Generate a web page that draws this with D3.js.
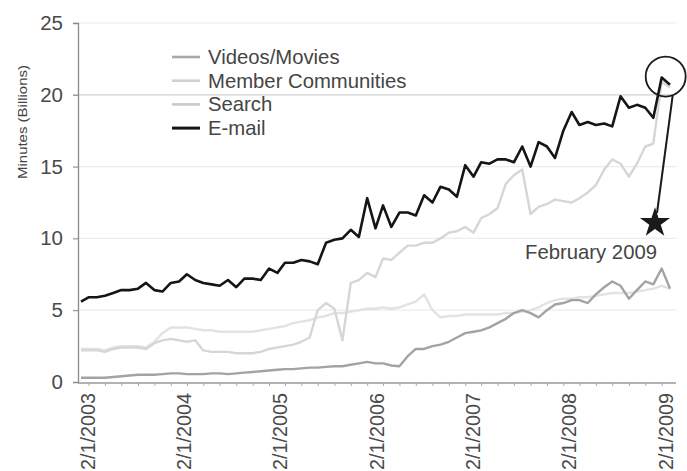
<!DOCTYPE html>
<html>
<head>
<meta charset="utf-8">
<script src="https://cdn.jsdelivr.net/npm/d3@7"></script>
<style>
  body { margin: 0; background: #fff; }
  svg { display: block; font-family: "Liberation Sans", Arial, sans-serif; }
</style>
</head>
<body>
<div id="chart"></div>
<script>
const width = 687, height = 471;

// monthly values, Feb 2003 .. Feb 2009 (minutes, billions)
const firstMonth = new Date(2003, 1, 1);
const lastMonth = new Date(2009, 1, 1);
const yearTicks = ["2/1/2003", "2/1/2004", "2/1/2005", "2/1/2006", "2/1/2007", "2/1/2008", "2/1/2009"];
const yTicks = [0, 5, 10, 15, 20, 25];
const seriesNames = ["Videos/Movies", "Member Communities", "Search", "E-mail"];

const videos = [
  0.3, 0.3, 0.3, 0.3, 0.35, 0.4, 0.45, 0.5, 0.5, 0.5,
  0.55, 0.6, 0.6, 0.55, 0.55, 0.55, 0.6, 0.6, 0.55, 0.6,
  0.65, 0.7, 0.75, 0.8, 0.85, 0.9, 0.9, 0.95, 1.0, 1.0,
  1.05, 1.1, 1.1, 1.2, 1.3, 1.4, 1.3, 1.3, 1.15, 1.1,
  1.8, 2.3, 2.3, 2.5, 2.6, 2.8, 3.1, 3.4, 3.5, 3.6,
  3.8, 4.1, 4.4, 4.8, 5.0, 4.8, 4.5, 5.0, 5.4, 5.5,
  5.7, 5.7, 5.5, 6.1, 6.6, 7.0, 6.7, 5.8, 6.4, 7.0,
  6.8, 7.9, 6.5
];
const member = [
  2.2, 2.2, 2.2, 2.1, 2.3, 2.4, 2.4, 2.4, 2.3, 2.7,
  2.9, 3.0, 2.9, 2.8, 2.9, 2.2, 2.1, 2.1, 2.1, 2.0,
  2.0, 2.0, 2.1, 2.3, 2.4, 2.5, 2.6, 2.8, 3.1, 5.0,
  5.5, 5.1, 2.9, 6.9, 7.1, 7.6, 7.3, 8.6, 8.5, 9.0,
  9.5, 9.5, 9.7, 9.7, 10.0, 10.4, 10.5, 10.8, 10.4, 11.4,
  11.7, 12.1, 13.8, 14.4, 14.8, 11.7, 12.2, 12.4, 12.7, 12.6,
  12.5, 12.8, 13.2, 13.7, 14.8, 15.5, 15.2, 14.3, 15.2, 16.4,
  16.6, 20.9, 20.5
];
const search = [
  2.3, 2.3, 2.3, 2.2, 2.4, 2.5, 2.5, 2.5, 2.4, 2.8,
  3.4, 3.8, 3.8, 3.8, 3.7, 3.6, 3.6, 3.5, 3.5, 3.5,
  3.5, 3.5, 3.6, 3.7, 3.8, 3.9, 4.1, 4.2, 4.3, 4.5,
  4.6, 4.8, 4.8, 4.9, 5.0, 5.1, 5.1, 5.2, 5.1, 5.2,
  5.4, 5.6, 6.1, 5.0, 4.5, 4.6, 4.6, 4.7, 4.7, 4.7,
  4.7, 4.7, 4.8, 4.8, 4.9, 5.0, 5.2, 5.5, 5.7, 5.8,
  5.8, 5.9, 5.9, 6.0, 6.1, 6.2, 6.2, 6.2, 6.3, 6.4,
  6.5, 6.7, 6.5
];
const email = [
  5.6, 5.9, 5.9, 6.0, 6.2, 6.4, 6.4, 6.5, 6.9, 6.4,
  6.3, 6.9, 7.0, 7.5, 7.1, 6.9, 6.8, 6.7, 7.1, 6.6,
  7.2, 7.2, 7.1, 7.9, 7.6, 8.3, 8.3, 8.5, 8.4, 8.2,
  9.7, 9.9, 10.0, 10.6, 10.1, 12.8, 10.7, 12.3, 10.8, 11.8,
  11.8, 11.6, 13.0, 12.5, 13.6, 13.4, 12.9, 15.1, 14.3, 15.3,
  15.2, 15.5, 15.5, 15.3, 16.4, 15.0, 16.7, 16.4, 15.6, 17.5,
  18.8, 17.9, 18.1, 17.9, 18.0, 17.8, 19.9, 19.1, 19.3, 19.1,
  18.4, 21.2, 20.7
];

const colors = ["#a3a3a3", "#d6d6d6", "#e2e2e2", "#151515"];
const legendColors = ["#a8a8a8", "#cfcfcf", "#c9c9c9", "#151515"];

const months = d3.timeMonth.range(firstMonth, d3.timeMonth.offset(lastMonth, 1));
const series = [videos, member, search, email];

const x = d3.scaleTime().domain([firstMonth, lastMonth]).range([81, 670]);
// labels in the scan sit a little inside the data span
const xLabel = d3.scaleTime().domain([firstMonth, lastMonth]).range([87, 665]);
const y = d3.scaleLinear().domain([0, 25]).range([382, 23]);

const svg = d3.select("#chart").append("svg")
  .attr("width", width)
  .attr("height", height);

svg.append("rect").attr("width", width).attr("height", height).attr("fill", "#fff");

// gridlines
svg.append("g")
  .selectAll("line")
  .data(yTicks.filter(d => d > 0))
  .enter()
  .append("line")
    .attr("x1", 73).attr("x2", 676)
    .attr("y1", d => y(d)).attr("y2", d => y(d))
    .attr("stroke", d => d === 20 ? "#d2d2d2" : "#ececec")
    .attr("stroke-width", 1.2);

// y axis
const yAxis = svg.append("g")
  .attr("transform", "translate(78,0)")
  .call(d3.axisLeft(y).tickValues(yTicks).tickSize(5).tickPadding(10));
yAxis.select(".domain").attr("stroke", "#8a8a8a").attr("stroke-width", 1.3);
yAxis.selectAll(".tick line").attr("stroke", "#8a8a8a");
yAxis.selectAll(".tick text")
  .attr("fill", "#4a4a4a")
  .style("font-size", "20.5px");

svg.append("text")
  .attr("transform", "translate(27,122) rotate(-90)")
  .attr("text-anchor", "middle")
  .attr("fill", "#444")
  .attr("textLength", 114)
  .attr("lengthAdjust", "spacingAndGlyphs")
  .style("font-size", "12px")
  .text("Minutes (Billions)");

// x axis: minor ticks + year labels
const xAxis = svg.append("g")
  .attr("transform", "translate(0,383)")
  .call(d3.axisBottom(x).ticks(d3.timeMonth.every(2)).tickSize(3).tickFormat(""));
xAxis.select(".domain").attr("d", "M78,0H676").attr("stroke", "#9a9a9a").attr("stroke-width", 1.3);
xAxis.selectAll(".tick line").attr("stroke", "#aaa");

const years = yearTicks.map(s => d3.timeParse("%m/%d/%Y")(s));
const xLab = svg.append("g")
  .attr("transform", "translate(0,383)")
  .call(d3.axisBottom(xLabel).tickValues(years).tickSize(0).tickFormat((d, i) => yearTicks[i]));
xLab.select(".domain").remove();
xLab.selectAll(".tick text")
  .attr("transform", "rotate(-90)")
  .attr("x", -10)
  .attr("y", 0)
  .attr("dy", "0.36em")
  .attr("text-anchor", "end")
  .attr("fill", "#4a4a4a")
  .style("font-size", "19.8px");

// lines
const line = d3.line()
  .x((d, i) => x(months[i]))
  .y(d => y(d));

const drawOrder = [2, 1, 0, 3];
svg.append("g")
  .selectAll("path")
  .data(drawOrder)
  .enter()
  .append("path")
    .attr("d", k => line(series[k]))
    .attr("fill", "none")
    .attr("stroke", k => colors[k])
    .attr("stroke-width", k => k === 3 ? 2.6 : 2.4)
    .attr("stroke-linejoin", "round");

// legend
const legend = svg.append("g")
  .selectAll("g")
  .data(seriesNames)
  .enter()
  .append("g")
    .attr("transform", (d, i) => "translate(172," + (57 + i * 23.7) + ")");
legend.append("line")
  .attr("x1", 0).attr("x2", 28)
  .attr("stroke", (d, i) => legendColors[i])
  .attr("stroke-width", (d, i) => i === 3 ? 3 : 2.6);
legend.append("text")
  .attr("x", 36)
  .attr("y", 7)
  .attr("fill", "#454545")
  .style("font-size", "20.3px")
  .text(d => d);

// annotation: circle, pointer, star, caption
const peak = new Date(2009, 0, 1);
const cx = x(peak) + 4, cy = y(21.2) - 1;
svg.append("ellipse")
  .attr("cx", cx).attr("cy", cy)
  .attr("rx", 20).attr("ry", 20)
  .attr("fill", "none")
  .attr("stroke", "#1a1a1a")
  .attr("stroke-width", 1.8);

const starX = 655, starY = 223;
svg.append("line")
  .attr("x1", cx + 7).attr("y1", cy + 19)
  .attr("x2", starX + 2).attr("y2", starY - 10)
  .attr("stroke", "#1a1a1a")
  .attr("stroke-width", 2);

svg.append("path")
  .attr("d", d3.symbol().type(d3.symbolStar).size(280)())
  .attr("transform", "translate(" + starX + "," + starY + ")")
  .attr("fill", "#1a1a1a");

svg.append("text")
  .attr("x", 657)
  .attr("y", 259)
  .attr("text-anchor", "end")
  .attr("fill", "#454545")
  .style("font-size", "20.3px")
  .text("February 2009");
</script>
</body>
</html>
